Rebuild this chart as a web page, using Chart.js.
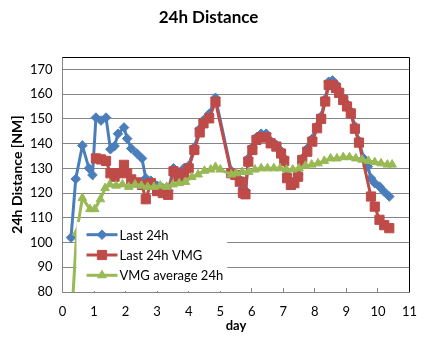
<!DOCTYPE html>
<html>
<head>
<meta charset="utf-8">
<script src="https://cdn.jsdelivr.net/npm/chart.js@4.4.1/dist/chart.umd.min.js"></script>
<style>
  html, body { margin: 0; padding: 0; background: #fff; }
  #wrap { width: 433px; height: 338px; }
</style>
</head>
<body>
<div id="wrap"><canvas id="chart" width="433" height="338"></canvas></div>
<script>
// 24h distance per day
const days = [0.27, 0.42, 0.63, 0.84, 0.95, 1.06, 1.22, 1.38, 1.52, 1.65, 1.76, 1.95, 2.05, 2.18, 2.36, 2.52, 2.64, 2.80,
  3.00, 3.18, 3.35, 3.52, 3.68, 3.85, 4.00, 4.18, 4.35, 4.47, 4.65, 4.85,
  5.35, 5.48, 5.62, 5.72, 5.80, 5.89, 6.02, 6.15, 6.30, 6.46, 6.60, 6.78, 6.93, 7.03, 7.12, 7.24, 7.35, 7.47,
  7.60, 7.76, 7.92, 8.07, 8.20, 8.33, 8.44, 8.56, 8.67, 8.77, 8.90, 9.02, 9.14, 9.27, 9.40, 9.55, 9.68, 9.78, 9.90, 10.05, 10.20, 10.36];

const last24h = [102, 125.7, 139.2, 130, 127.3, 150.5, 149.3, 150.5, 137.7, 139, 144, 146.5, 142, 138, 136, 134, 126, 125,
  123, 122, 121, 130, 128, 130, 131, 138.5, 146, 149.5, 152, 158.5,
  129, 128, 125.5, 122, 121, 134, 138.5, 142.5, 144, 144, 141, 139.5, 137, 134, 127.5, 124.5, 125, 127.5,
  134, 138, 142, 147, 151, 158, 165, 165.5, 164, 161.5, 158.5, 156, 153, 147, 141, 134, 130.7, 126, 124, 122.6, 120.5, 118.6];

const last24hVmg = [null, null, null, null, null, 134, 133.6, 133, 128, 126.6, 128, 131.4, 128, 125.5, 124.3, 123.3, 117.5, 124,
  120.8, 120, 119.3, 128.8, 126.6, 128, 130, 137.4, 144.5, 148.2, 150.2, 156.9,
  128, 127.3, 124.6, 120, 119.5, 132.7, 137.4, 141.5, 142.5, 142.5, 140.1, 138.8, 136, 133, 126, 123.3, 124, 126.6,
  133.4, 136.7, 140.8, 146.2, 150, 157, 163.7, 163.7, 162.5, 160.5, 157.6, 155, 152.2, 146, 140.4, null, null, 118.6, 114.5, 109.2, 107, 105.8];

const avgDays = [0.30, 0.45, 0.63, 0.87, 1.02, 1.20, 1.35, 1.50, 1.70, 1.90, 2.10, 2.30, 2.50, 2.70, 2.90, 3.10, 3.30, 3.50,
  3.70, 3.90, 4.10, 4.30, 4.50, 4.70, 4.85, 5.00, 5.35, 5.50, 5.70, 5.90, 6.10, 6.30, 6.50, 6.70, 6.90, 7.10, 7.30, 7.50,
  7.70, 7.90, 8.10, 8.30, 8.50, 8.70, 8.90, 9.10, 9.30, 9.50, 9.70, 9.90, 10.10, 10.30, 10.45];

const vmgAvg24h = [72, 104, 118, 113.5, 113.5, 117.5, 122, 123.5, 123, 123.5, 122.5, 123.5, 123, 122.5, 122.5, 123, 122.5, 123.5,
  124, 124.5, 126.5, 127.5, 129, 129.5, 130.5, 129.5, 127.5, 128, 128.5, 128.5, 129.5, 130, 130, 130, 130, 129.5, 129.5, 130,
  131, 131.5, 132, 133, 134, 134, 134.5, 134.5, 134, 133.5, 133, 132.5, 132, 131.5, 131.5];

const yTicks = [80, 90, 100, 110, 120, 130, 140, 150, 160, 170];

const FONT = "Lato, 'Open Sans', sans-serif";
const GRID = "#868686";

const pts = (xs, ys) => xs.map((x, i) => ({ x, y: ys[i] }));

// legend drawn inside the plot, lower left, like the Excel original
const innerLegend = {
  id: "innerLegend",
  afterDatasetsDraw(chart) {
    const { ctx, chartArea: a } = chart;
    const sets = chart.data.datasets;
    ctx.save();
    ctx.font = `13px ${FONT}`;
    const textX = a.left + 57;
    const wMax = Math.max(...sets.map((d) => ctx.measureText(d.label).width));
    ctx.fillStyle = "#fff";
    ctx.fillRect(a.left + 14, a.bottom - 70, textX + wMax + 4 - (a.left + 14), 69);
    sets.forEach((d, i) => {
      const y = a.bottom - 57.3 + i * 20.3;
      ctx.strokeStyle = d.borderColor;
      ctx.lineWidth = 3;
      ctx.beginPath();
      ctx.moveTo(a.left + 24, y);
      ctx.lineTo(a.left + 55, y);
      ctx.stroke();
      ctx.fillStyle = d.pointBackgroundColor;
      ctx.strokeStyle = d.pointBorderColor;
      ctx.lineWidth = 1;
      Chart.helpers.drawPoint(ctx, { pointStyle: d.pointStyle, radius: d.pointRadius, rotation: 0, borderWidth: 1 }, a.left + 39.5, y);
      ctx.fillStyle = "#000";
      ctx.textBaseline = "middle";
      ctx.fillText(d.label, textX, y + 1);
    });
    ctx.restore();
  },
};

// black frame on top and right of the plot area
const plotFrame = {
  id: "plotFrame",
  afterDatasetsDraw(chart) {
    const { ctx, chartArea: a } = chart;
    ctx.save();
    ctx.strokeStyle = "#000";
    ctx.lineWidth = 1;
    ctx.beginPath();
    ctx.moveTo(a.left, Math.round(a.top) + 0.5);
    ctx.lineTo(Math.round(a.right) + 0.5, Math.round(a.top) + 0.5);
    ctx.lineTo(Math.round(a.right) + 0.5, a.bottom);
    ctx.stroke();
    ctx.restore();
  },
};

function series(label, xs, ys, color, style, radius, order) {
  return {
    label,
    data: pts(xs, ys),
    showLine: true,
    borderColor: color,
    backgroundColor: color,
    borderWidth: 3,
    pointStyle: style,
    pointRadius: radius,
    pointBackgroundColor: color,
    pointBorderColor: color,
    pointBorderWidth: 1,
    spanGaps: true,
    order,
  };
}

new Chart(document.getElementById("chart"), {
  type: "scatter",
  data: {
    datasets: [
      series("Last 24h", days, last24h, "#4a7ebb", "rectRot", 4.8, 3),
      series("Last 24h VMG", days, last24hVmg, "#be4b48", "rect", 6.5, 2),
      series("VMG average 24h", avgDays, vmgAvg24h, "#98b954", "triangle", 5, 1),
    ],
  },
  options: {
    responsive: false,
    animation: false,
    layout: { padding: { left: 0, right: 16, top: 0, bottom: 0 } },
    plugins: {
      legend: { display: false },
      tooltip: { enabled: false },
      title: {
        display: true,
        text: "24h Distance",
        color: "#000",
        font: { family: FONT, size: 17, weight: "bold" },
        padding: { top: 7.3, bottom: 29.3 },
      },
    },
    scales: {
      x: {
        type: "linear",
        min: 0,
        max: 11,
        ticks: { stepSize: 1, color: "#000", font: { family: FONT, size: 13 }, padding: 16 },
        grid: { drawOnChartArea: false, drawTicks: true, tickLength: -4, color: GRID },
        border: { color: GRID },
        title: { display: true, text: "day", color: "#000", font: { family: FONT, size: 13, weight: "bold" }, padding: { top: 0, bottom: 4 } },
        afterFit: (s) => { s.height = 46; },
      },
      y: {
        min: 80,
        max: 175,
        afterBuildTicks: (s) => { s.ticks = yTicks.map((v) => ({ value: v })); },
        ticks: { color: "#000", font: { family: FONT, size: 13 }, padding: 10 },
        grid: { color: GRID, drawTicks: false },
        border: { color: GRID },
        title: { display: true, text: "24h Distance [NM]", color: "#000", font: { family: FONT, size: 14, weight: "bold" }, padding: { top: 8.6, bottom: 0 } },
        afterFit: (s) => { s.width = 62.5; },
      },
    },
  },
  plugins: [innerLegend, plotFrame],
});
</script>
</body>
</html>
